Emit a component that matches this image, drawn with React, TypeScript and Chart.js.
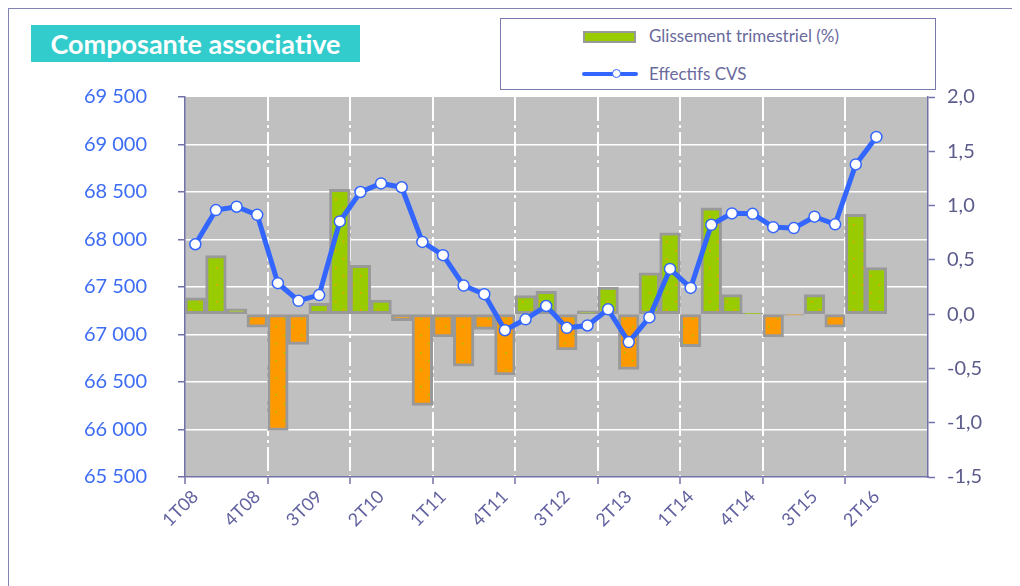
import React, { useEffect, useRef } from 'react';
import { Chart, registerables } from 'chart.js';

Chart.register(...registerables);

// ---- DATA ----
const quarters = [
  '1T08', '2T08', '3T08', '4T08',
  '1T09', '2T09', '3T09', '4T09',
  '1T10', '2T10', '3T10', '4T10',
  '1T11', '2T11', '3T11', '4T11',
  '1T12', '2T12', '3T12', '4T12',
  '1T13', '2T13', '3T13', '4T13',
  '1T14', '2T14', '3T14', '4T14',
  '1T15', '2T15', '3T15', '4T15',
  '1T16', '2T16', '3T16', '4T16',
];

const effectifsCVS = [
  67950, 68310, 68345, 68260, 67540, 67355, 67415, 68190,
  68500, 68590, 68550, 67975, 67835, 67515, 67425, 67045,
  67160, 67300, 67070, 67095, 67265, 66920, 67180, 67690,
  67490, 68155, 68275, 68270, 68130, 68120, 68240, 68160,
  68790, 69080,
];

const glissementTrimestriel = [
  0.15, 0.54, 0.05, -0.12, -1.07, -0.28, 0.10, 1.15,
  0.45, 0.13, -0.06, -0.84, -0.21, -0.48, -0.14, -0.56,
  0.17, 0.21, -0.33, 0.03, 0.25, -0.51, 0.38, 0.75,
  -0.30, 0.98, 0.18, 0.01, -0.21, -0.01, 0.18, -0.12,
  0.92, 0.43,
];

const leftAxisRange = [65500, 69500];
const rightAxisRange = [-1.5, 2.0];

const FONT = 'Lato, "DejaVu Sans", sans-serif';
const AXIS_COLOR = '#7272a8';

function fmtThousands(v: number) {
  const th = Math.floor(v / 1000);
  const rest = String(Math.round(v % 1000)).padStart(3, '0');
  return th + ' ' + rest;
}

function makePattern(ctx: CanvasRenderingContext2D, bg: string, dot: string) {
  const c = document.createElement('canvas');
  c.width = 17;
  c.height = 17;
  const x = c.getContext('2d')!;
  x.fillStyle = bg;
  x.fillRect(0, 0, 17, 17);
  x.fillStyle = dot;
  x.fillRect(4, 4, 1.5, 1.5);
  x.fillRect(12, 12, 1.5, 1.5);
  return ctx.createPattern(c, 'repeat');
}

const plotBg = {
  id: 'plotBg',
  beforeDraw(chart: any) {
    const { ctx, chartArea: a } = chart;
    ctx.save();
    ctx.fillStyle = '#c0c0c0';
    ctx.fillRect(a.left, a.top, a.right - a.left, a.bottom - a.top);
    ctx.restore();
  },
};

export default function App() {
  const ref = useRef<HTMLCanvasElement>(null);

  useEffect(() => {
    document.documentElement.style.overflow = 'hidden';
    document.body.style.overflow = 'hidden';
    const canvas = ref.current!;
    const ctx = canvas.getContext('2d')!;
    const green = makePattern(ctx, '#99cc00', '#ff9900');
    const orange = makePattern(ctx, '#ff9900', '#99cc00');

    const chart = new Chart(canvas, {
      type: 'bar',
      data: {
        labels: quarters,
        datasets: [
          {
            type: 'line',
            label: 'Effectifs CVS',
            data: effectifsCVS,
            yAxisID: 'y',
            borderColor: '#3366ff',
            borderWidth: 5,
            pointRadius: 5.5,
            pointBackgroundColor: '#ffffff',
            pointBorderColor: '#3366ff',
            pointBorderWidth: 1.5,
            tension: 0,
            order: 1,
          } as any,
          {
            type: 'bar',
            label: 'Glissement trimestriel (%)',
            data: glissementTrimestriel,
            yAxisID: 'y1',
            backgroundColor: (c: any) => (c.raw >= 0 ? green : orange),
            borderColor: '#999999',
            borderWidth: 3,
            borderSkipped: false,
            barPercentage: 1,
            categoryPercentage: 1,
            order: 2,
          } as any,
        ],
      },
      options: {
        responsive: false,
        animation: false,
        layout: { padding: { top: 89, left: 0, right: 0, bottom: 0 } },
        plugins: {
          legend: { display: false },
          tooltip: { enabled: false },
        },
        scales: {
          x: {
            offset: true,
            afterFit: (s: any) => {
              s.height = 109;
            },
            grid: {
              offset: true,
              color: (c: any) =>
                c.index % 4 === 0 && c.index > 0 && c.index < 36 ? '#ffffff' : 'rgba(0,0,0,0)',
              lineWidth: 2,
              drawTicks: true,
              tickLength: 7,
              tickWidth: 1.5,
              tickColor: (c: any) => (c.index % 4 === 0 ? AXIS_COLOR : 'rgba(0,0,0,0)'),
            },
            border: { color: AXIS_COLOR, width: 1.5, dash: [24, 4, 3, 4] },
            ticks: {
              autoSkip: false,
              minRotation: 45,
              maxRotation: 45,
              padding: 2,
              color: '#6262a0',
              font: { family: FONT, size: 18 },
              callback: (_v: any, i: number) => (i % 3 === 0 && i <= 33 ? quarters[i] : ''),
            },
          },
          y: {
            position: 'left',
            min: leftAxisRange[0],
            max: leftAxisRange[1],
            afterFit: (s: any) => {
              s.width = 177;
            },
            grid: {
              color: (c: any) => (c.index === 0 || c.index === 8 ? 'rgba(0,0,0,0)' : '#ffffff'),
              lineWidth: 1.5,
              drawTicks: true,
              tickLength: 7,
              tickWidth: 1.5,
              tickColor: AXIS_COLOR,
            },
            border: { color: AXIS_COLOR, width: 1.5 },
            ticks: {
              stepSize: 500,
              padding: 31,
              color: '#3d6cf5',
              font: { family: FONT, size: 20 },
              callback: (v: any) => fmtThousands(Number(v)),
            },
          },
          y1: {
            position: 'right',
            min: rightAxisRange[0],
            max: rightAxisRange[1],
            afterFit: (s: any) => {
              s.width = 92;
            },
            grid: {
              drawOnChartArea: false,
              drawTicks: true,
              tickLength: 7,
              tickWidth: 1.5,
              tickColor: AXIS_COLOR,
            },
            border: { color: AXIS_COLOR, width: 1.5 },
            ticks: {
              stepSize: 0.5,
              padding: 12,
              color: '#5c5c8c',
              font: { family: FONT, size: 20 },
              callback: (v: any) => Number(v).toFixed(1).replace('.', ','),
            },
          },
        },
      } as any,
      plugins: [plotBg],
    });
    return () => chart.destroy();
  }, []);

  return (
    <div style={{ position: 'relative', width: 1012, height: 578, fontFamily: FONT }}>
      <canvas ref={ref} width={1012} height={578} style={{ display: 'block', position: 'absolute', left: 0, top: 0 }} />
      <div
        style={{
          position: 'absolute', left: 0, top: 0, right: 0, bottom: 0,
          borderTop: '1px solid #8282b4', borderLeft: '1px solid #8282b4', pointerEvents: 'none',
        }}
      />
      <div
        style={{
          position: 'absolute', left: 23, top: 17, width: 329, height: 37,
          background: '#33cccc', color: '#ffffff', fontWeight: 700, fontSize: 27,
          lineHeight: '37px', textAlign: 'center', whiteSpace: 'nowrap',
        }}
      >
        Composante associative
      </div>
      <div
        style={{
          position: 'absolute', left: 492, top: 10, width: 434, height: 70,
          border: '1px solid #7878aa', background: '#ffffff', color: '#6a6a9c', fontSize: 17,
        }}
      >
        <div
          style={{
            position: 'absolute', left: 82, top: 12, width: 49, height: 8,
            background: '#99cc00', border: '2px solid #999999',
          }}
        />
        <div style={{ position: 'absolute', left: 148, top: 5, lineHeight: '24px', whiteSpace: 'nowrap' }}>
          Glissement trimestriel (%)
        </div>
        <div
          style={{
            position: 'absolute', left: 81, top: 53, width: 56, height: 4,
            background: '#3366ff', borderRadius: 2,
          }}
        />
        <div
          style={{
            position: 'absolute', left: 111, top: 50, width: 7, height: 7,
            background: '#ffffff', border: '1.5px solid #3366ff', borderRadius: '50%',
          }}
        />
        <div style={{ position: 'absolute', left: 148, top: 43, lineHeight: '24px', whiteSpace: 'nowrap' }}>
          Effectifs CVS
        </div>
      </div>
    </div>
  );
}
